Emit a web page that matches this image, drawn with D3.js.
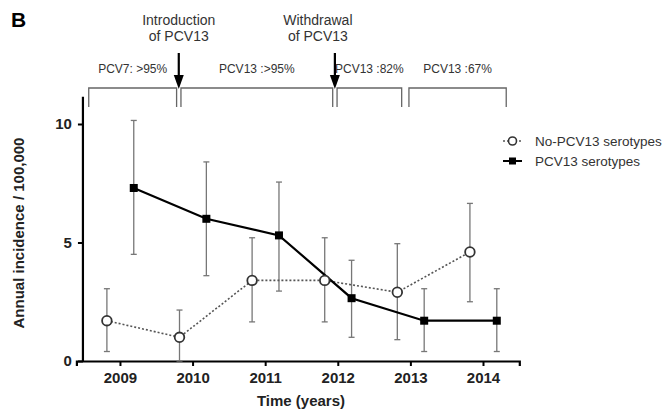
<!DOCTYPE html>
<html>
<head>
<meta charset="utf-8">
<script src="https://cdn.jsdelivr.net/npm/d3@7"></script>
<style>
  body { margin: 0; background: #fff; }
  svg { display: block; font-family: "Liberation Sans", Arial, sans-serif; }
</style>
</head>
<body>
<div id="chart"></div>
<script>
// Datos
const years = [2009, 2010, 2011, 2012, 2013, 2014];
const yTicks = [0, 5, 10];

const noPcvVal  = [1.7, 1.0, 3.4, 3.4, 2.9, 4.6];
const noPcvLow  = [0.4, 0.0, 1.65, 1.65, 0.9, 2.5];
const noPcvHigh = [3.05, 2.15, 5.2, 5.2, 4.95, 6.65];

const pcvVal  = [7.3, 6.0, 5.3, 2.65, 1.7, 1.7];
const pcvLow  = [4.5, 3.6, 2.95, 1.0, 0.4, 0.4];
const pcvHigh = [10.15, 8.4, 7.55, 4.25, 3.05, 3.05];

// Periodos de cobertura (en años)
const periodLabels = ["PCV7: >95%", "PCV13 :>95%", "PCV13 :82%", "PCV13 :67%"];
const periodStart  = [2008.57, 2009.84, 2011.99, 2012.98];
const periodEnd    = [2009.78, 2011.93, 2012.88, 2014.32];

// Eventos (flechas)
const eventYears = [2009.81, 2011.96];
const eventLines = [["Introduction", "of  PCV13"], ["Withdrawal", "of PCV13"]];
const eventShift = [0, -17];

const seriesNames = ["No-PCV13 serotypes", "PCV13 serotypes"];

const width = 668, height = 414;

const svg = d3.select("#chart").append("svg")
    .attr("width", width)
    .attr("height", height);

const x = d3.scaleLinear().domain([2008.4, 2014.5]).range([76.4, 519.3]);
const y = d3.scaleLinear().domain([0, 10]).range([361, 124]);

const offNo = -0.18, offPcv = 0.19;

// Ejes
const xAxis = svg.append("g")
    .attr("transform", `translate(0,${y(0)})`)
    .call(d3.axisBottom(x).tickValues(years).tickFormat(d3.format("d")).tickSizeOuter(0).tickSize(5).tickPadding(6));
xAxis.select(".domain").attr("stroke-width", 2.2);
xAxis.selectAll(".tick line").attr("stroke-width", 2);
xAxis.selectAll("text").style("font-size", "15px").style("font-weight", "bold").attr("fill", "#222");

const yAxis = svg.append("g")
    .attr("transform", `translate(${x(2008.49)},0)`)
    .call(d3.axisLeft(y).tickValues(yTicks).tickSizeOuter(0).tickSize(5).tickPadding(6));
yAxis.select(".domain").attr("d", `M0,${y(11.15)}V${y(0)}`).attr("stroke-width", 2.2);
yAxis.selectAll(".tick line").attr("stroke-width", 2);
yAxis.selectAll("text").style("font-size", "15px").style("font-weight", "bold").attr("fill", "#222");

svg.append("text")
    .attr("x", 301).attr("y", 406)
    .attr("text-anchor", "middle")
    .style("font-size", "15px").style("font-weight", "bold")
    .attr("fill", "#222")
    .text("Time (years)");

svg.append("text")
    .attr("transform", `translate(24,${y(5.4)}) rotate(-90)`)
    .attr("text-anchor", "middle")
    .style("font-size", "15px").style("font-weight", "bold")
    .attr("fill", "#222")
    .text("Annual incidence / 100,000");

svg.append("text")
    .attr("x", 11).attr("y", 27)
    .style("font-size", "21px").style("font-weight", "bold")
    .text("B");

// Corchetes de periodos
const bracketTop = 88, bracketBottom = 107;
periodLabels.forEach((lab, i) => {
    const x0 = x(periodStart[i]), x1 = x(periodEnd[i]);
    svg.append("path")
        .attr("d", `M${x0},${bracketBottom}V${bracketTop}H${x1}V${bracketBottom}`)
        .attr("fill", "none").attr("stroke", "#666").attr("stroke-width", 1.3);
    svg.append("text")
        .attr("x", (x0 + x1) / 2).attr("y", 73)
        .attr("text-anchor", "middle")
        .style("font-size", "12px").attr("fill", "#333")
        .text(lab);
});

// Flechas de eventos
eventYears.forEach((ev, i) => {
    const ax = x(ev);
    svg.append("line")
        .attr("x1", ax).attr("x2", ax)
        .attr("y1", 53).attr("y2", 77)
        .attr("stroke", "#000").attr("stroke-width", 2.2);
    svg.append("path")
        .attr("d", `M${ax - 5},75L${ax + 5},75L${ax},89Z`)
        .attr("fill", "#000");
    eventLines[i].forEach((t, j) => {
        svg.append("text")
            .attr("x", ax + eventShift[i]).attr("y", 25 + j * 16)
            .attr("text-anchor", "middle")
            .style("font-size", "14px").attr("fill", "#333")
            .text(t);
    });
});

// Barras de error
function errorBars(vals, low, high, off) {
    const g = svg.append("g").attr("stroke", "#777").attr("stroke-width", 1.3);
    years.forEach((yr, i) => {
        const cx = x(yr + off);
        g.append("line").attr("x1", cx).attr("x2", cx).attr("y1", y(low[i])).attr("y2", y(high[i]));
        g.append("line").attr("x1", cx - 3).attr("x2", cx + 3).attr("y1", y(low[i])).attr("y2", y(low[i]));
        g.append("line").attr("x1", cx - 3).attr("x2", cx + 3).attr("y1", y(high[i])).attr("y2", y(high[i]));
    });
}
errorBars(noPcvVal, noPcvLow, noPcvHigh, offNo);
errorBars(pcvVal, pcvLow, pcvHigh, offPcv);

// Líneas
const lineNo = d3.line().x((d, i) => x(years[i] + offNo)).y(d => y(d));
const linePcv = d3.line().x((d, i) => x(years[i] + offPcv)).y(d => y(d));

svg.append("path").datum(noPcvVal)
    .attr("d", lineNo)
    .attr("fill", "none").attr("stroke", "#555")
    .attr("stroke-width", 1.6).attr("stroke-dasharray", "2,2");

svg.append("path").datum(pcvVal)
    .attr("d", linePcv)
    .attr("fill", "none").attr("stroke", "#000").attr("stroke-width", 2.2);

// Marcadores
svg.selectAll(".noPt").data(noPcvVal).enter().append("circle")
    .attr("class", "noPt")
    .attr("cx", (d, i) => x(years[i] + offNo)).attr("cy", d => y(d))
    .attr("r", 4.8).attr("fill", "#fff").attr("stroke", "#333").attr("stroke-width", 1.8);

svg.selectAll(".pcvPt").data(pcvVal).enter().append("rect")
    .attr("class", "pcvPt")
    .attr("x", (d, i) => x(years[i] + offPcv) - 4).attr("y", d => y(d) - 4)
    .attr("width", 8).attr("height", 8).attr("fill", "#000");

// Leyenda
const legend = svg.append("g").attr("transform", "translate(503,0)");
const legY = [141, 161];
legend.append("line").attr("x1", 0).attr("x2", 19).attr("y1", legY[0]).attr("y2", legY[0])
    .attr("stroke", "#555").attr("stroke-width", 1.6).attr("stroke-dasharray", "2,2");
legend.append("circle").attr("cx", 9.5).attr("cy", legY[0]).attr("r", 4)
    .attr("fill", "#fff").attr("stroke", "#333").attr("stroke-width", 1.6);
legend.append("line").attr("x1", 0).attr("x2", 19).attr("y1", legY[1]).attr("y2", legY[1])
    .attr("stroke", "#000").attr("stroke-width", 2);
legend.append("rect").attr("x", 6).attr("y", legY[1] - 3.5).attr("width", 7).attr("height", 7).attr("fill", "#000");
seriesNames.forEach((s, i) => {
    legend.append("text")
        .attr("x", 32).attr("y", legY[i] + 5)
        .style("font-size", "13.5px").attr("fill", "#333")
        .text(s);
});
</script>
</body>
</html>
